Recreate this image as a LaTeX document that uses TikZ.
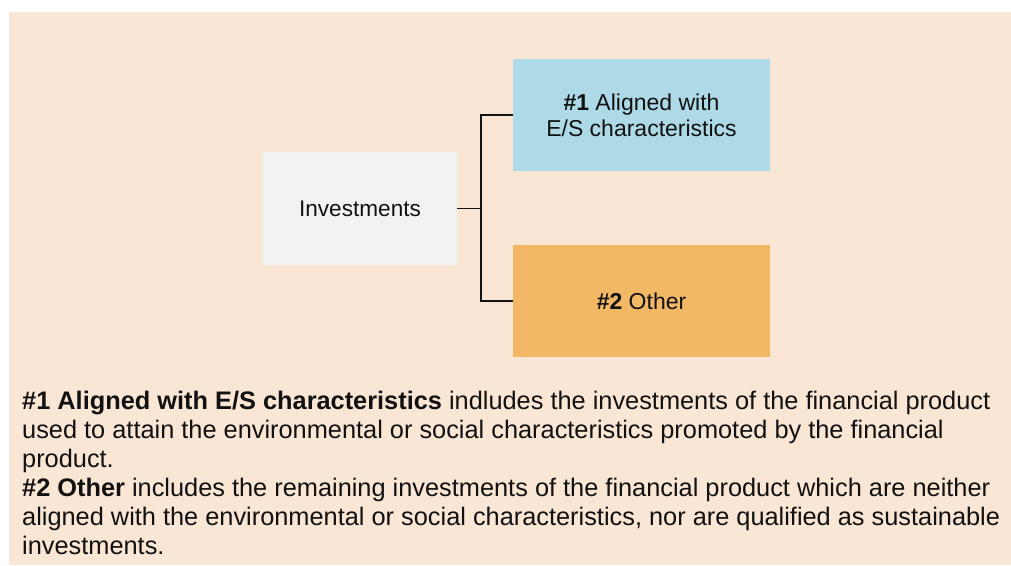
\documentclass[tikz,border=0pt]{standalone}
\usepackage{fontspec}
\setmainfont{Liberation Sans}
\definecolor{peach}{HTML}{FAE6D4}
\definecolor{boxgray}{HTML}{F2F2F2}
\definecolor{boxblue}{HTML}{ADDAE6}
\definecolor{boxorange}{HTML}{F2B866}
\definecolor{ink}{HTML}{111111}
\begin{document}
\begin{tikzpicture}[x=1pt,y=-1pt,
  box/.style={inner sep=0pt,outer sep=0pt,align=center,text=ink,
    font=\fontsize{23}{26}\selectfont},
  link/.style={draw=ink,line width=1.6pt},
  desc/.style={anchor=base west,inner sep=0pt,text=ink,
    font=\fontsize{25.35}{29}\selectfont}]
\useasboundingbox (0,0) rectangle (1011,565);
\fill[peach] (9,12) rectangle (1011,565);
\fill[boxgray] (263,152) rectangle (457,265);
\fill[boxblue] (513,59) rectangle (770,171);
\fill[boxorange] (513,245) rectangle (770,357);
\node[box,font=\fontsize{22.6}{26}\selectfont,minimum width=194pt,minimum height=113pt] (inv) at (360,208.5) {Investments};
\node[box,minimum width=257pt,minimum height=112pt] (al) at (641.5,115) {\textbf{\#1} Aligned with\\E/S characteristics};
\node[box,minimum width=257pt,minimum height=112pt] (ot) at (641.5,301) {\textbf{\#2} Other};
\coordinate (j) at (481,208.5);
\draw[link] (inv.east) -- (j);
\draw[link] (al.west) -| (j);
\draw[link] (ot.west) -| (j);
\node[desc] (l1) at (22,409) {\textbf{\#1 Aligned with E/S characteristics} indludes the investments of the financial product};
\node[desc] (l2) at (22,438) {used to attain the environmental or social characteristics promoted by the financial};
\node[desc] (l3) at (22,467) {product.};
\node[desc] (l4) at (22,496) {\textbf{\#2 Other} includes the remaining investments of the financial product which are neither};
\node[desc] (l5) at (22,525) {aligned with the environmental or social characteristics, nor are qualified as sustainable};
\node[desc] (l6) at (22,554) {investments.};
\end{tikzpicture}
\end{document}
